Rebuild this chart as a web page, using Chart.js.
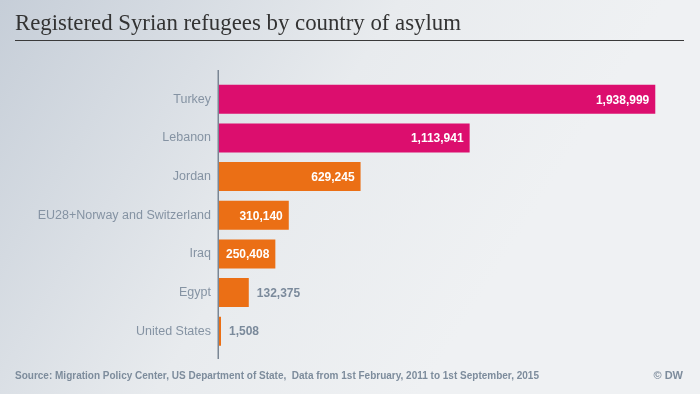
<!DOCTYPE html>
<html>
<head>
<meta charset="utf-8">
<script src="https://cdn.jsdelivr.net/npm/chart.js@4"></script>
<style>
  html, body { margin: 0; padding: 0; background: #eef0f2; }
  #wrap { width: 700px; height: 394px; position: relative; }
</style>
</head>
<body>
<div id="wrap"><canvas id="refugeeChart" width="700" height="394"></canvas></div>
<script>
// Datos del gráfico
var countries = ['Turkey', 'Lebanon', 'Jordan', 'EU28+Norway and Switzerland', 'Iraq', 'Egypt', 'United States'];
var refugees = [1938999, 1113941, 629245, 310140, 250408, 132375, 1508];
var barColors = ['#dc0e6e', '#dc0e6e', '#eb6f15', '#eb6f15', '#eb6f15', '#eb6f15', '#eb6f15'];
var chartTitle = 'Registered Syrian refugees by country of asylum';
var sourceText = 'Source: Migration Policy Center, US Department of State,  Data from 1st February, 2011 to 1st September, 2015';
var creditText = '© DW';

// Fondo, título, pie, eje y etiquetas de valor
var decoPlugin = {
    id: 'deco',
    beforeDraw: function (chart) {
        var c = chart.ctx;
        var g = c.createLinearGradient(0, 0, 480, 300);
        g.addColorStop(0, '#c6ced8');
        g.addColorStop(0.6, '#e8ebee');
        g.addColorStop(1, '#eff1f3');
        c.save();
        c.fillStyle = g;
        c.fillRect(0, 0, chart.width, chart.height);

        c.fillStyle = '#333333';
        c.font = '23px "Liberation Serif", serif';
        c.textBaseline = 'alphabetic';
        c.textAlign = 'left';
        c.fillText(chartTitle, 15, 30, 446);

        c.strokeStyle = '#3a3a3a';
        c.lineWidth = 1.2;
        c.beginPath();
        c.moveTo(15, 40.5);
        c.lineTo(684, 40.5);
        c.stroke();

        c.fillStyle = '#7d8c9c';
        c.font = 'bold 11px "Liberation Sans Narrow", "Liberation Sans", Arial, sans-serif';
        c.textBaseline = 'middle';
        c.fillText(sourceText, 15, 376, 524);
        c.textAlign = 'right';
        c.fillText(creditText, 683, 376);
        c.restore();
    },
    afterDatasetsDraw: function (chart) {
        var c = chart.ctx;
        var x = chart.scales.x.getPixelForValue(0);
        c.save();
        c.strokeStyle = '#7a8694';
        c.lineWidth = 1.5;
        c.beginPath();
        c.moveTo(x - 0.75, 70);
        c.lineTo(x - 0.75, 359);
        c.stroke();

        var meta = chart.getDatasetMeta(0);
        c.font = 'bold 12px "Liberation Sans", Arial, sans-serif';
        c.textBaseline = 'middle';
        meta.data.forEach(function (bar, i) {
            var label = refugees[i].toLocaleString('en-US');
            var w = c.measureText(label).width;
            var barW = bar.x - bar.base;
            if (barW > w + 8) {
                c.fillStyle = '#ffffff';
                c.textAlign = 'right';
                c.fillText(label, bar.x - 6, bar.y + 1);
            } else {
                c.fillStyle = '#7b8a9b';
                c.textAlign = 'left';
                c.fillText(label, bar.x + 8, bar.y + 1);
            }
        });
        c.restore();
    }
};

var ctx = document.getElementById('refugeeChart').getContext('2d');
var refugeeChart = new Chart(ctx, {
    type: 'bar',
    data: {
        labels: countries,
        datasets: [{
            data: refugees,
            backgroundColor: barColors,
            borderWidth: 0,
            minBarLength: 2,
            barPercentage: 0.75,
            categoryPercentage: 1.0
        }]
    },
    options: {
        indexAxis: 'y',
        responsive: false,
        animation: false,
        layout: { padding: { top: 80, bottom: 43.5, left: 0, right: 31 } },
        plugins: {
            legend: { display: false },
            tooltip: { enabled: false }
        },
        scales: {
            x: {
                display: false,
                min: 0,
                max: 2000000
            },
            y: {
                grid: { display: false, drawTicks: false },
                border: { display: false },
                afterFit: function (scale) { scale.width = 219; },
                ticks: {
                    padding: 8,
                    color: '#8593a3',
                    font: { family: '"Liberation Sans", Arial, sans-serif', size: 12.5 }
                }
            }
        }
    },
    plugins: [decoPlugin]
});
</script>
</body>
</html>
